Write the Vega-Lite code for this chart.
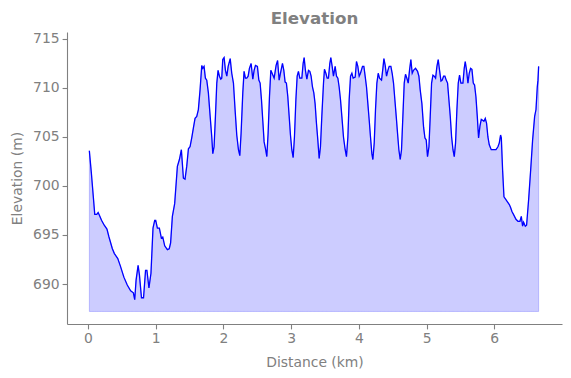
{
  "$schema": "https://vega.github.io/schema/vega-lite/v6.json",
  "width": 495,
  "height": 292,
  "autosize": {"type": "none"},
  "padding": {"left": 67, "top": 32, "right": 9, "bottom": 54},
  "background": "white",
  "title": {"text": "Elevation", "fontSize": 16.7, "fontWeight": "bold", "color": "#808080", "font": "DejaVu Sans", "offset": -9, "baseline": "alphabetic", "anchor": "middle"},
  "config": {
    "view": {"stroke": null},
    "axis": {"grid": false, "domainColor": "#808080", "tickColor": "#808080", "labelColor": "#808080", "titleColor": "#808080", "labelFont": "DejaVu Sans", "titleFont": "DejaVu Sans", "labelFontSize": 13.9, "titleFontSize": 13.9, "titleFontWeight": "normal", "tickSize": 4.9, "labelPadding": 3, "domainWidth": 1.1, "tickWidth": 1.1}
  },
  "data": {"values": [
    {"d": 0.02, "e": 703.6}, {"d": 0.05, "e": 701.3}, {"d": 0.10, "e": 697.1}, {"d": 0.13, "e": 697.1}, {"d": 0.15, "e": 697.3}, {"d": 0.17, "e": 697.0}, {"d": 0.20, "e": 696.5}, {"d": 0.24, "e": 696.0}, {"d": 0.28, "e": 695.6}, {"d": 0.31, "e": 694.8}, {"d": 0.36, "e": 693.6}, {"d": 0.39, "e": 693.1}, {"d": 0.44, "e": 692.6}, {"d": 0.48, "e": 691.8}, {"d": 0.53, "e": 690.7}, {"d": 0.58, "e": 689.9}, {"d": 0.63, "e": 689.3}, {"d": 0.67, "e": 689.1}, {"d": 0.69, "e": 688.4}, {"d": 0.71, "e": 690.4}, {"d": 0.74, "e": 691.9}, {"d": 0.76, "e": 690.9}, {"d": 0.79, "e": 688.6}, {"d": 0.82, "e": 688.6}, {"d": 0.85, "e": 691.4}, {"d": 0.87, "e": 691.4}, {"d": 0.90, "e": 689.6}, {"d": 0.93, "e": 691.1}, {"d": 0.96, "e": 695.7}, {"d": 0.985, "e": 696.5}, {"d": 1.00, "e": 696.5}, {"d": 1.025, "e": 695.7}, {"d": 1.054, "e": 695.7}, {"d": 1.083, "e": 694.7}, {"d": 1.104, "e": 694.8}, {"d": 1.133, "e": 693.9}, {"d": 1.172, "e": 693.5}, {"d": 1.20, "e": 693.6}, {"d": 1.22, "e": 694.2}, {"d": 1.246, "e": 696.9}, {"d": 1.28, "e": 698.2}, {"d": 1.32, "e": 702.0}, {"d": 1.35, "e": 702.7}, {"d": 1.379, "e": 703.7},
    {"d": 1.409, "e": 700.8}, {"d": 1.433, "e": 700.7}, {"d": 1.458, "e": 702.0}, {"d": 1.483, "e": 703.8}, {"d": 1.507, "e": 704.0}, {"d": 1.532, "e": 704.9}, {"d": 1.556, "e": 705.9}, {"d": 1.581, "e": 706.9}, {"d": 1.606, "e": 707.1}, {"d": 1.63, "e": 707.8}, {"d": 1.655, "e": 709.8}, {"d": 1.68, "e": 712.3}, {"d": 1.695, "e": 712.0}, {"d": 1.714, "e": 712.2}, {"d": 1.734, "e": 711.0}, {"d": 1.754, "e": 710.8}, {"d": 1.778, "e": 709.5}, {"d": 1.803, "e": 707.2}, {"d": 1.828, "e": 705.0}, {"d": 1.843, "e": 703.3}, {"d": 1.862, "e": 704.0}, {"d": 1.882, "e": 707.1}, {"d": 1.902, "e": 710.5}, {"d": 1.921, "e": 711.8}, {"d": 1.941, "e": 711.2}, {"d": 1.961, "e": 710.9}, {"d": 1.975, "e": 711.0}, {"d": 1.99, "e": 712.9}, {"d": 2.01, "e": 713.1}, {"d": 2.03, "e": 711.8}, {"d": 2.05, "e": 711.2}, {"d": 2.07, "e": 712.2}, {"d": 2.10, "e": 713.0}, {"d": 2.123, "e": 711.5}, {"d": 2.148, "e": 710.5}, {"d": 2.172, "e": 707.8}, {"d": 2.197, "e": 705.2}, {"d": 2.222, "e": 703.7}, {"d": 2.242, "e": 703.1}, {"d": 2.261, "e": 705.4}, {"d": 2.286, "e": 709.5}, {"d": 2.305, "e": 711.7}, {"d": 2.325, "e": 711.0}, {"d": 2.345, "e": 711.0}, {"d": 2.365, "e": 711.2}, {"d": 2.384, "e": 712.0}, {"d": 2.409, "e": 712.5}, {"d": 2.434, "e": 710.9}, {"d": 2.453, "e": 711.8}, {"d": 2.473, "e": 712.3}, {"d": 2.502, "e": 712.2}, {"d": 2.523, "e": 710.8}, {"d": 2.542, "e": 710.5}, {"d": 2.562, "e": 708.8}, {"d": 2.582, "e": 706.6}, {"d": 2.601, "e": 704.5}, {"d": 2.621, "e": 703.8}, {"d": 2.641, "e": 703.0}, {"d": 2.66, "e": 705.4}, {"d": 2.68, "e": 709.1}, {"d": 2.70, "e": 711.8}, {"d": 2.719, "e": 711.5}, {"d": 2.749, "e": 711.0}, {"d": 2.778, "e": 712.3}, {"d": 2.80, "e": 712.8},
    {"d": 2.823, "e": 710.8}, {"d": 2.842, "e": 711.5}, {"d": 2.872, "e": 712.5}, {"d": 2.892, "e": 711.8}, {"d": 2.911, "e": 710.6}, {"d": 2.93, "e": 710.5}, {"d": 2.951, "e": 709.1}, {"d": 2.97, "e": 707.2}, {"d": 2.99, "e": 705.2}, {"d": 3.01, "e": 703.7}, {"d": 3.03, "e": 702.9}, {"d": 3.049, "e": 705.0}, {"d": 3.07, "e": 708.8}, {"d": 3.089, "e": 711.2}, {"d": 3.108, "e": 711.7}, {"d": 3.128, "e": 711.0}, {"d": 3.158, "e": 711.0}, {"d": 3.177, "e": 712.5}, {"d": 3.192, "e": 713.1}, {"d": 3.211, "e": 711.8}, {"d": 3.232, "e": 710.9}, {"d": 3.256, "e": 711.8}, {"d": 3.276, "e": 711.7}, {"d": 3.295, "e": 711.2}, {"d": 3.315, "e": 710.1}, {"d": 3.335, "e": 709.5}, {"d": 3.354, "e": 708.4}, {"d": 3.374, "e": 706.4}, {"d": 3.394, "e": 704.7}, {"d": 3.414, "e": 702.8}, {"d": 3.433, "e": 704.0}, {"d": 3.453, "e": 707.1}, {"d": 3.478, "e": 710.5}, {"d": 3.492, "e": 711.9}, {"d": 3.513, "e": 711.5}, {"d": 3.532, "e": 711.0}, {"d": 3.551, "e": 711.0}, {"d": 3.571, "e": 712.5}, {"d": 3.586, "e": 713.1}, {"d": 3.606, "e": 712.2}, {"d": 3.625, "e": 711.2}, {"d": 3.65, "e": 712.2}, {"d": 3.67, "e": 711.2}, {"d": 3.69, "e": 711.0}, {"d": 3.709, "e": 710.1}, {"d": 3.729, "e": 708.8}, {"d": 3.749, "e": 707.1}, {"d": 3.773, "e": 705.0}, {"d": 3.798, "e": 703.7}, {"d": 3.817, "e": 703.0}, {"d": 3.838, "e": 705.0}, {"d": 3.857, "e": 708.8}, {"d": 3.877, "e": 711.2}, {"d": 3.897, "e": 711.5}, {"d": 3.916, "e": 711.0}, {"d": 3.946, "e": 711.1}, {"d": 3.965, "e": 712.7}, {"d": 3.985, "e": 712.2}, {"d": 4.005, "e": 711.2}, {"d": 4.024, "e": 711.5}, {"d": 4.054, "e": 712.2}, {"d": 4.074, "e": 712.2}, {"d": 4.093, "e": 711.2}, {"d": 4.113, "e": 710.1}, {"d": 4.133, "e": 708.4}, {"d": 4.153, "e": 706.7}, {"d": 4.172, "e": 705.0}, {"d": 4.192, "e": 703.3}, {"d": 4.207, "e": 702.7}, {"d": 4.227, "e": 704.4}, {"d": 4.246, "e": 707.8}, {"d": 4.266, "e": 710.5}, {"d": 4.286, "e": 711.5}, {"d": 4.305, "e": 711.0}, {"d": 4.335, "e": 710.8}, {"d": 4.355, "e": 712.0}, {"d": 4.37, "e": 713.0}, {"d": 4.389, "e": 712.3}, {"d": 4.409, "e": 711.2}, {"d": 4.429, "e": 711.8}, {"d": 4.448, "e": 712.2}, {"d": 4.473, "e": 712.2}, {"d": 4.492, "e": 711.5}, {"d": 4.512, "e": 710.5}, {"d": 4.532, "e": 708.8}, {"d": 4.552, "e": 707.1}, {"d": 4.571, "e": 705.4}, {"d": 4.591, "e": 703.7}, {"d": 4.611, "e": 702.7}, {"d": 4.63, "e": 703.7}, {"d": 4.65, "e": 707.1}, {"d": 4.67, "e": 710.5}, {"d": 4.689, "e": 711.4}, {"d": 4.709, "e": 711.0}, {"d": 4.729, "e": 710.5}, {"d": 4.748, "e": 711.8}, {"d": 4.768, "e": 712.9}, {"d": 4.788, "e": 711.5}, {"d": 4.807, "e": 711.8}, {"d": 4.837, "e": 712.0}, {"d": 4.867, "e": 711.7}, {"d": 4.887, "e": 711.2}, {"d": 4.906, "e": 709.8}, {"d": 4.931, "e": 708.4}, {"d": 4.956, "e": 706.0}, {"d": 4.976, "e": 704.9}, {"d": 4.995, "e": 704.7}, {"d": 5.014, "e": 703.0}, {"d": 5.035, "e": 704.0}, {"d": 5.054, "e": 707.1}, {"d": 5.074, "e": 710.5}, {"d": 5.094, "e": 711.3}, {"d": 5.113, "e": 711.2}, {"d": 5.133, "e": 711.0}, {"d": 5.153, "e": 712.2}, {"d": 5.172, "e": 712.9}, {"d": 5.192, "e": 711.8}, {"d": 5.213, "e": 710.7}, {"d": 5.231, "e": 710.8}, {"d": 5.251, "e": 711.2}, {"d": 5.271, "e": 711.2}, {"d": 5.29, "e": 710.8}, {"d": 5.31, "e": 710.5}, {"d": 5.33, "e": 708.8}, {"d": 5.35, "e": 707.1}, {"d": 5.37, "e": 705.0}, {"d": 5.39, "e": 703.7}, {"d": 5.409, "e": 703.0}, {"d": 5.428, "e": 704.4}, {"d": 5.448, "e": 707.8}, {"d": 5.468, "e": 710.5}, {"d": 5.487, "e": 711.3}, {"d": 5.507, "e": 710.5}, {"d": 5.537, "e": 710.5}, {"d": 5.556, "e": 712.0}, {"d": 5.571, "e": 712.7}, {"d": 5.591, "e": 711.8}, {"d": 5.611, "e": 710.5}, {"d": 5.63, "e": 711.5}, {"d": 5.65, "e": 712.0}, {"d": 5.67, "e": 711.9}, {"d": 5.69, "e": 710.5}, {"d": 5.709, "e": 710.3}, {"d": 5.729, "e": 709.1}, {"d": 5.749, "e": 707.1}, {"d": 5.768, "e": 704.9}, {"d": 5.788, "e": 706.1}, {"d": 5.808, "e": 706.8}, {"d": 5.828, "e": 706.7}, {"d": 5.847, "e": 706.6}, {"d": 5.867, "e": 706.9}, {"d": 5.886, "e": 706.4}, {"d": 5.906, "e": 705.0}, {"d": 5.926, "e": 704.2}, {"d": 5.955, "e": 703.7}, {"d": 5.995, "e": 703.7}, {"d": 6.025, "e": 703.7}, {"d": 6.054, "e": 704.0}, {"d": 6.074, "e": 704.4}, {"d": 6.093, "e": 705.2}, {"d": 6.104, "e": 704.9}, {"d": 6.123, "e": 701.6}, {"d": 6.143, "e": 698.9}, {"d": 6.172, "e": 698.6}, {"d": 6.192, "e": 698.4}, {"d": 6.222, "e": 698.1}, {"d": 6.241, "e": 697.8}, {"d": 6.261, "e": 697.4}, {"d": 6.291, "e": 697.0}, {"d": 6.32, "e": 696.6}, {"d": 6.35, "e": 696.4}, {"d": 6.379, "e": 696.4}, {"d": 6.399, "e": 696.9}, {"d": 6.418, "e": 695.9}, {"d": 6.433, "e": 696.3}, {"d": 6.458, "e": 695.9}, {"d": 6.477, "e": 696.0}, {"d": 6.507, "e": 698.6}, {"d": 6.537, "e": 701.6}, {"d": 6.566, "e": 704.7}, {"d": 6.596, "e": 707.1}, {"d": 6.616, "e": 707.8}, {"d": 6.635, "e": 710.1}, {"d": 6.645, "e": 710.8}, {"d": 6.655, "e": 712.2}
  ]},
  "encoding": {
    "x": {"field": "d", "type": "quantitative", "scale": {"domain": [-0.31, 7.0], "nice": false, "zero": false}, "axis": {"values": [0, 1, 2, 3, 4, 5, 6], "title": "Distance (km)", "titlePadding": 10}}
  },
  "layer": [
    {
      "mark": {"type": "area", "fill": "blue", "fillOpacity": 0.2, "stroke": "blue", "strokeOpacity": 0.2, "strokeWidth": 1},
      "encoding": {
        "y": {"field": "e", "type": "quantitative", "scale": {"domain": [685.92, 715.71], "nice": false, "zero": false}, "axis": {"values": [690, 695, 700, 705, 710, 715], "title": "Elevation (m)", "titlePadding": 8}},
        "y2": {"datum": 687.2}
      }
    },
    {
      "mark": {"type": "line", "color": "blue", "strokeWidth": 1.3},
      "encoding": {
        "y": {"field": "e", "type": "quantitative"}
      }
    }
  ]
}
